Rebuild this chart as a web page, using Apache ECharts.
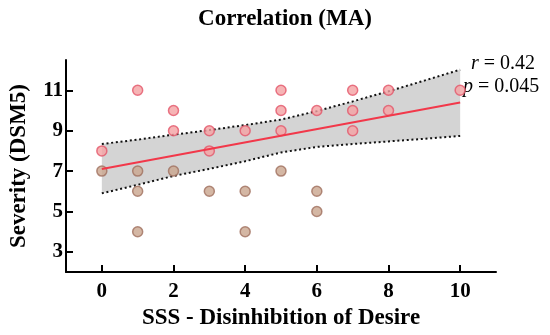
<!DOCTYPE html>
<html>
<head>
<meta charset="utf-8">
<script src="https://cdn.jsdelivr.net/npm/echarts@6/dist/echarts.min.js"></script>
<style>html,body{margin:0;padding:0;background:#fff}#c{width:550px;height:335px}</style>
</head>
<body>
<div id="c"></div>
<script>
// ---- data ----
const xTicks = [0, 2, 4, 6, 8, 10];
const yTicks = [3, 5, 7, 9, 11];
const highPoints = [[0,8],[1,11],[2,10],[2,9],[3,9],[3,8],[4,9],[5,11],[5,10],[5,9],[6,10],[7,11],[7,10],[7,9],[8,11],[8,10],[10,11]];
const lowPoints = [[0,7],[1,7],[1,6],[1,4],[2,7],[3,6],[4,6],[4,4],[5,7],[6,6],[6,5]];
const bandX = [0, 1, 2, 3, 4, 5, 6, 7, 8, 9, 10];
const bandUpper = [8.34, 8.56, 8.80, 9.03, 9.28, 9.55, 9.97, 10.45, 10.95, 11.48, 12.02];
const bandLower = [5.90, 6.32, 6.76, 7.11, 7.49, 7.92, 8.20, 8.34, 8.47, 8.60, 8.74];
const fitLine = [[0, 7.1], [10, 10.4]];
const rText = '0.42';
const pText = '0.045';

const serif = '"Liberation Serif", "DejaVu Serif", serif';
const lowerSeries = bandX.map((x, i) => [x, bandLower[i]]);
const upperSeries = bandX.map((x, i) => [x, bandUpper[i]]);
const bandPolygon = upperSeries.concat(lowerSeries.slice().reverse());

const chart = echarts.init(document.getElementById('c'), null, {renderer: 'canvas'});
const axisCommon = {
  axisLine: {show: true, onZero: false, lineStyle: {color: '#000', width: 2}},
  axisTick: {show: true, inside: true, length: 7, lineStyle: {color: '#000', width: 2}},
  splitLine: {show: false},
  nameTextStyle: {fontFamily: serif, fontWeight: 'bold', fontSize: 23, color: '#000'}
};
chart.setOption({
  animation: false,
  title: {
    text: 'Correlation (MA)', left: 280, top: 3, textAlign: 'center',
    textStyle: {fontFamily: serif, fontWeight: 'bold', fontSize: 23, color: '#000'}
  },
  grid: {left: 63, right: 54, top: 60, bottom: 58, containLabel: false},
  xAxis: Object.assign({}, axisCommon, {
    type: 'value', min: -1, max: 11,
    name: 'SSS - Disinhibition of Desire', nameLocation: 'middle', nameGap: 29,
    axisTick: Object.assign({}, axisCommon.axisTick, {customValues: xTicks}),
    axisLabel: {customValues: xTicks, margin: 9, fontFamily: serif, fontWeight: 'bold', fontSize: 21, color: '#000'}
  }),
  yAxis: Object.assign({}, axisCommon, {
    type: 'value', min: 2, max: 12.5,
    name: 'Severity (DSM5)', nameLocation: 'middle', nameGap: 35,
    axisTick: Object.assign({}, axisCommon.axisTick, {customValues: yTicks}),
    axisLabel: {customValues: yTicks, margin: 3, fontFamily: serif, fontWeight: 'bold', fontSize: 21, color: '#000'}
  }),
  series: [
    {type: 'custom', data: [0], z: 1, silent: true,
      renderItem: function (params, api) {
        return {type: 'polygon', shape: {points: bandPolygon.map(p => api.coord(p))},
          style: {fill: '#d4d4d4'}};
      }},
    {type: 'line', data: upperSeries, symbol: 'none', lineStyle: {color: '#111', width: 2, type: [2, 2.7]}, z: 2},
    {type: 'line', data: lowerSeries, symbol: 'none', lineStyle: {color: '#111', width: 2, type: [2, 2.7]}, z: 2},
    {type: 'scatter', data: highPoints, symbolSize: 10, itemStyle: {color: '#f4a1a3', borderColor: '#e4566a', borderWidth: 1.5}, z: 3},
    {type: 'scatter', data: lowPoints, symbolSize: 10, itemStyle: {color: '#c9a58d', borderColor: '#a0705f', borderWidth: 1.5}, z: 3},
    {type: 'line', data: fitLine, symbol: 'none', lineStyle: {color: '#f2384a', width: 2}, z: 4}
  ],
  graphic: [
    {type: 'text', left: 471, top: 54, style: {
      text: '{i|r} = ' + rText,
      rich: {i: {fontStyle: 'italic', fontFamily: serif, fontSize: 20, fill: '#000'}},
      font: '20px ' + serif, fill: '#000'}},
    {type: 'text', left: 463, top: 77, style: {
      text: '{i|p} = ' + pText,
      rich: {i: {fontStyle: 'italic', fontFamily: serif, fontSize: 20, fill: '#000'}},
      font: '20px ' + serif, fill: '#000'}}
  ]
});
</script>
</body>
</html>
